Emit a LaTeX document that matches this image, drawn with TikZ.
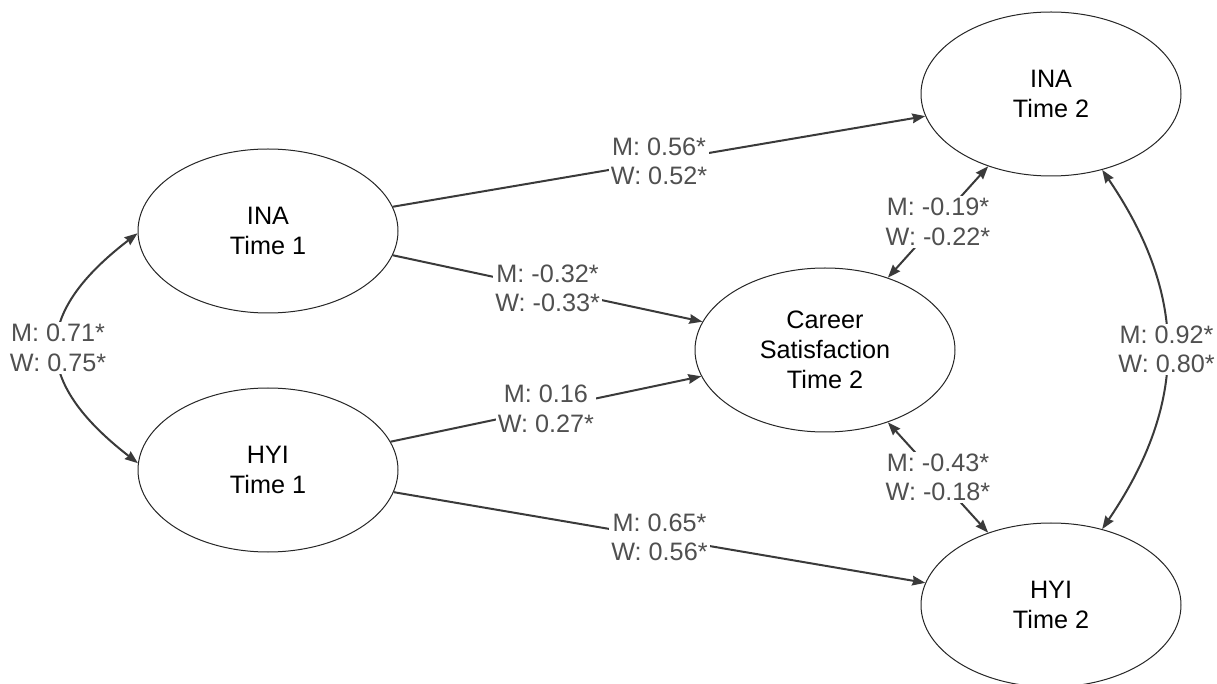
\documentclass[tikz,border=0pt]{standalone}
\usepackage{fontspec}
\setmainfont{Liberation Sans}
\usetikzlibrary{shapes.geometric,arrows.meta}
\definecolor{edgec}{HTML}{3A3A3A}
\definecolor{labc}{HTML}{505050}
\begin{document}
\begin{tikzpicture}[x=0.5pt,y=-0.5pt,
  latent/.style={ellipse, draw=black!85, line width=0.5pt, minimum width=130pt, minimum height=82pt, inner sep=0pt, align=center, font=\fontsize{12.6}{15}\selectfont, text=black},
  tip/.tip={Stealth[length=6.5pt,width=4.8pt,inset=0.6pt]},
  regpath/.style={draw=edgec, line width=1pt, -tip},
  covpath/.style={draw=edgec, line width=1pt, tip-tip},
  est/.style={fill=white, inner sep=1pt, align=center, text=labc, font=\fontsize{12.6}{14.8}\selectfont}
]
\fill[white] (0,0) rectangle (1217,684);
\useasboundingbox (0,0) rectangle (1217,684);

\node[latent] (INA1) at (268,231) {INA\\Time 1};
\node[latent] (HYI1) at (268,470) {HYI\\Time 1};
\node[latent] (CS) at (825,350) {Career\\Satisfaction\\Time 2};
\node[latent] (INA2) at (1051,94) {INA\\Time 2};
\node[latent] (HYI2) at (1051,605) {HYI\\Time 2};

\draw[regpath] (INA1.11) -- node[est] {M: 0.56*\\W: 0.52*} (INA2.190);
\draw[regpath] (INA1.-11) -- node[est] {M: -0.32*\\W: -0.33*} (CS.167);
\draw[regpath] (HYI1.13) -- node[est] {M: 0.16\\W: 0.27*} (CS.192);
\draw[regpath] (HYI1.-10) -- node[est] {M: 0.65*\\W: 0.56*} (HYI2.170);

\draw[covpath] (CS.49) -- node[est] {M: -0.19*\\W: -0.22*} (INA2.229);
\draw[covpath] (CS.-49) -- node[est] {M: -0.43*\\W: -0.18*} (HYI2.131);

\draw[covpath] (INA2.-56) .. controls (1188,296) and (1188,403) .. node[est] {M: 0.92*\\W: 0.80*} (HYI2.56);
\draw[covpath] (INA1.181) .. controls (31,315) and (32,381) .. node[est] {M: 0.71*\\W: 0.75*} (HYI1.177);
\end{tikzpicture}
\end{document}
